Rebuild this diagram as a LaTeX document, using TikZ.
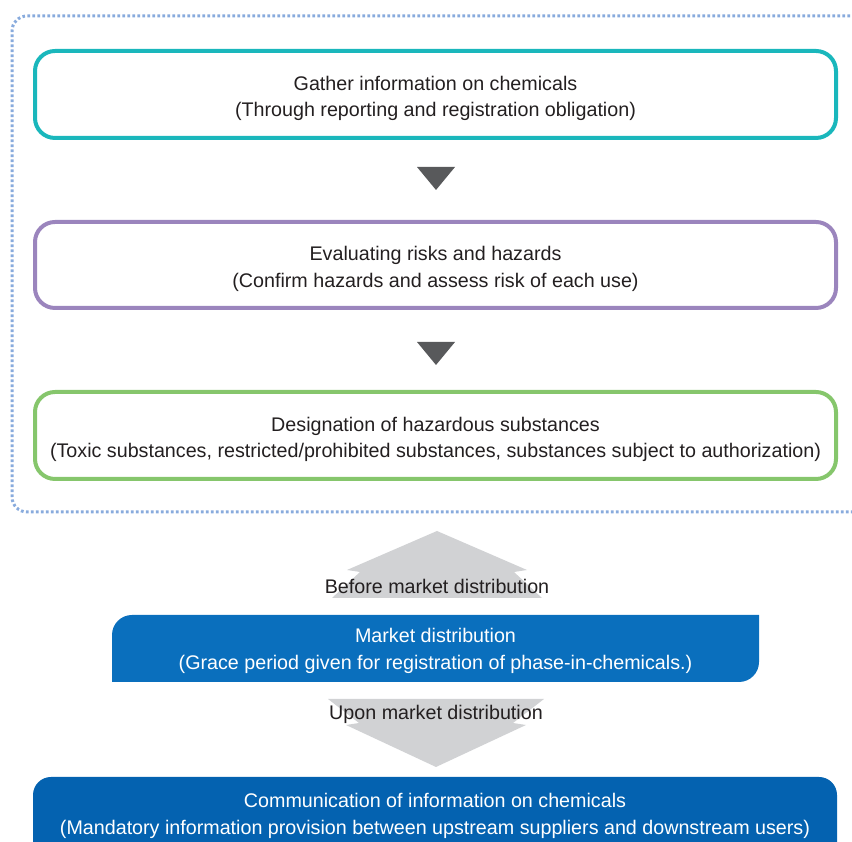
\documentclass[tikz,border=0pt]{standalone}
\usepackage{fontspec}
\setmainfont{Liberation Sans}
\usetikzlibrary{calc}
\definecolor{tealc}{HTML}{1AB7BC}
\definecolor{purplec}{HTML}{9B85BD}
\definecolor{greenc}{HTML}{86C66C}
\definecolor{dotc}{HTML}{88ABDD}
\definecolor{mktblue}{HTML}{0A6FBD}
\definecolor{botblue}{HTML}{0462B0}
\definecolor{tric}{HTML}{58595B}
\definecolor{grayarrow}{HTML}{D1D2D4}
\definecolor{txt}{HTML}{231F20}
\begin{document}
\begin{tikzpicture}[x=1pt,y=1pt,
  every node/.style={font=\fontsize{19.7}{26.6}\selectfont, text=txt, align=center, inner sep=0pt},
  stagebox/.style={line width=4pt, rounded corners=20pt, minimum width=801pt, minimum height=87pt},
  whitetext/.style={text=white}]
\useasboundingbox (0,0) rectangle (852,842);
% dotted frame
\draw[dotc, line width=3pt, dash pattern=on 2.6pt off 2.4pt, rounded corners=15pt]
  (870,826) -- (12,826) -- (12,330) -- (870,330);
% stage boxes
\node[stagebox, draw=tealc] (g) at (435.5,747.5) {};
\node (gt) at ($(g)+(0,-4)$) {Gather information on chemicals\\(Through reporting and registration obligation)};
\node[stagebox, draw=purplec, minimum height=86pt] (e) at (435.5,577) {};
\node (et) at ($(e)+(0,-4)$) {Evaluating risks and hazards\\(Confirm hazards and assess risk of each use)};
\node[stagebox, draw=greenc] (d) at (435.5,406.5) {};
\node (dt) at ($(d)+(0,-4)$) {Designation of hazardous substances\\(Toxic substances, restricted/prohibited substances, substances subject to authorization)};
% triangles
\fill[tric] (417,675) -- (455,675) -- (436,652) -- cycle;
\fill[tric] (417,500) -- (455,500) -- (436,477) -- cycle;
% up arrow
\fill[grayarrow] (437,311) -- (527,272) -- (514,270) -- (542,244) -- (332,244) -- (360,270) -- (347,272) -- cycle;
\node (before) at (437,256) {Before market distribution};
% market box
\fill[mktblue] (112,160) -- (112,207) arc[start angle=180,end angle=90,radius=20] -- (759,227) -- (759,180) arc[start angle=0,end angle=-90,radius=20] -- cycle;
\node[whitetext] (m) at (435.5,191) {Market distribution\\(Grace period given for registration of phase-in-chemicals.)};
% down arrow
\fill[grayarrow] (328,143) -- (544,143) -- (513,119) -- (526,117) -- (436,75) -- (346,117) -- (359,119) -- cycle;
\node (upon) at (436,127.5) {Upon market distribution};
% bottom box
\fill[botblue, rounded corners=18pt] (33,-30) rectangle (837,65);
\node[whitetext] (c) at (435,26) {Communication of information on chemicals\\(Mandatory information provision between upstream suppliers and downstream users)};
\end{tikzpicture}
\end{document}
